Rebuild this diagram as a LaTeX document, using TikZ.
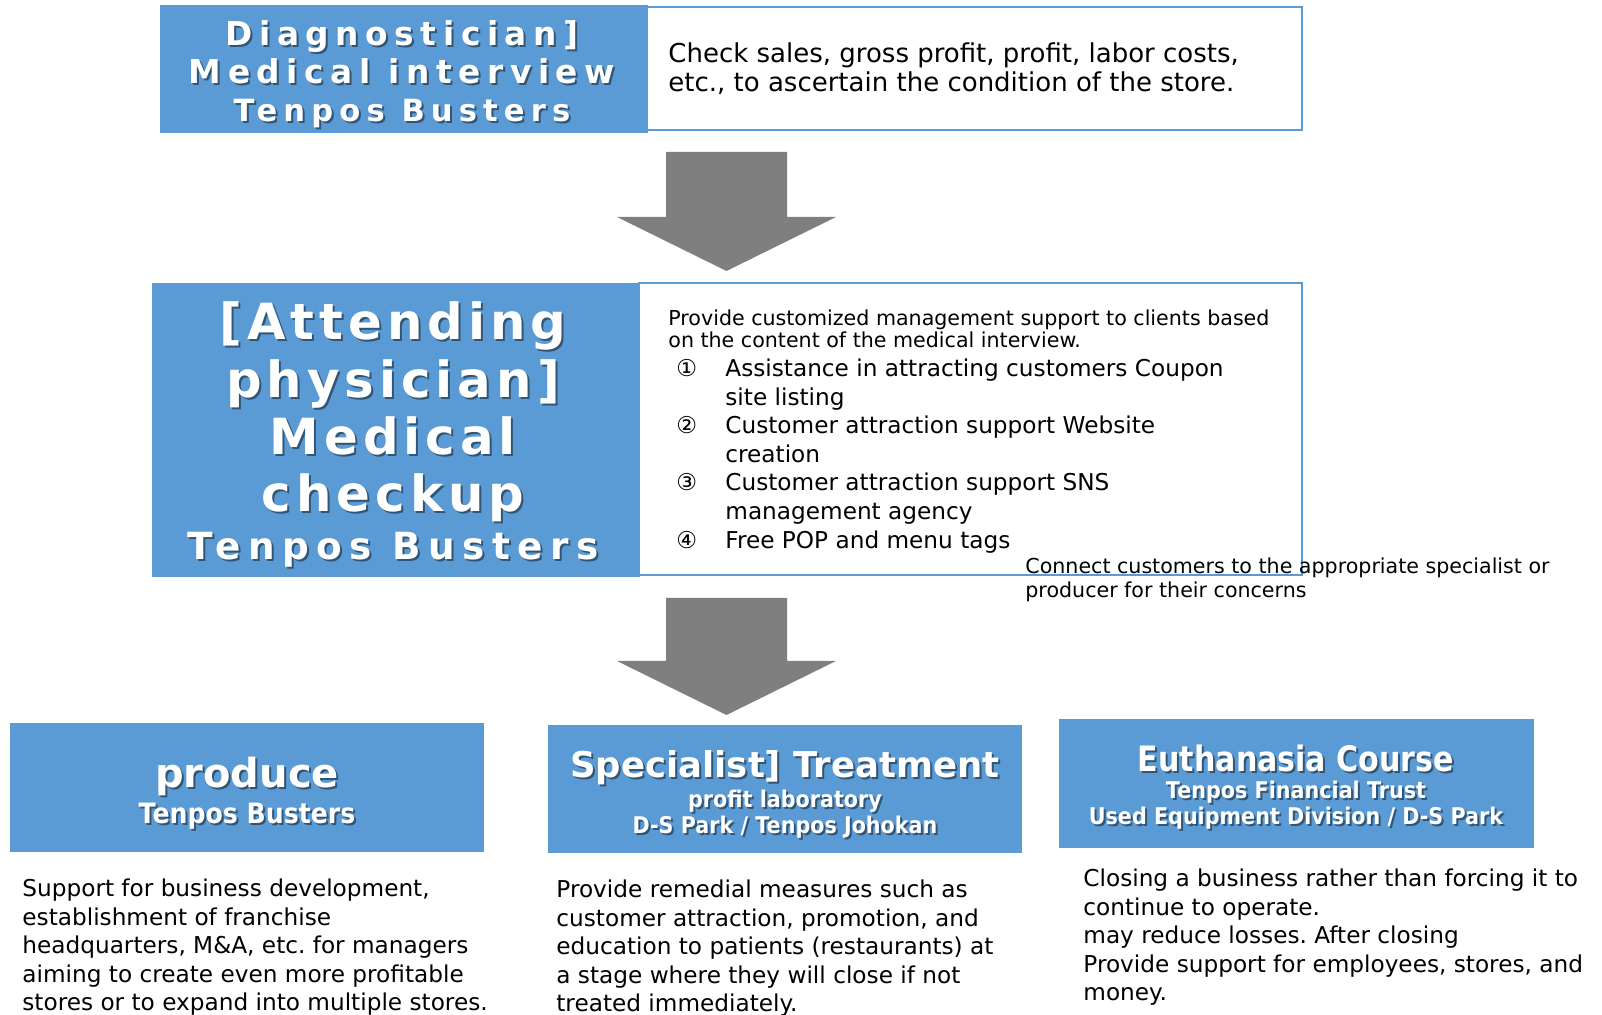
\documentclass[tikz,border=0pt]{standalone}
\usepackage{fontspec}
\setmainfont{DejaVu Sans}
\newfontfamily\spacedfont[LetterSpace=20]{DejaVu Sans}
\newfontfamily\bigspaced[LetterSpace=10]{DejaVu Sans}
\newfontfamily\narrowbold[FakeStretch=0.9]{DejaVu Sans Bold}
\newfontfamily\narrowerbold[FakeStretch=0.86]{DejaVu Sans Bold}
\usetikzlibrary{calc,positioning}

\definecolor{boxblue}{HTML}{5B9BD5}
\definecolor{arrowgray}{HTML}{7F7F7F}

\tikzset{
  bluebox/.style={fill=boxblue, draw=boxblue, inner sep=0pt},
  whitebox/.style={fill=white, draw=boxblue, line width=1pt, inner sep=0pt},
  title/.style={text=white, align=center, inner sep=0pt},
  shade/.style={text=black, text opacity=.45, align=center, inner sep=0pt},
  body/.style={anchor=north west, align=left, inner sep=0pt, font=\fontsize{11.6}{14.3}\selectfont},
  small body/.style={body, font=\fontsize{10.3}{11.2}\selectfont},
}

% white title text with a soft drop shadow
\newcommand{\shadowtitle}[4]{%
  \node[shade, font=#3] at ($(#2)+(2,2)$) {#4};
  \node[title, font=#3] (#1) at (#2) {#4};}

\begin{document}
\frenchspacing
\begin{tikzpicture}[x=0.5pt, y=-0.5pt]
  \useasboundingbox (0,0) rectangle (1602,1015);

  % --- interview ---
  \node[bluebox, minimum width=243.5pt, minimum height=63.5pt] (diagBox) at (403.5,68.5) {};
  \node[whitebox, minimum width=327.5pt, minimum height=61.5pt] (diagNote) at (974.5,68.5) {};
  \shadowtitle{diagTitle}{402,74}{\spacedfont\bfseries\fontsize{16.4}{18.9}\selectfont}%
    {Diagnostician]\\Medical interview\\{\fontsize{15.3}{18.9}\selectfont Tenpos Busters}}
  \node[body, font=\fontsize{13}{14.3}\selectfont] (diagText) at (668,42.5) {Check sales, gross profit, profit, labor costs,\\etc., to ascertain the condition of the store.};

  % --- big arrows ---
  \foreach \top/\neck/\tip in {152/217/271, 598/661/715}
    \fill[arrowgray] (666,\top) -- (787,\top) -- (787,\neck) -- (836,\neck)
      -- (726.5,\tip) -- (617,\neck) -- (666,\neck) -- cycle;

  % --- checkup ---
  \node[bluebox, minimum width=243.5pt, minimum height=146.5pt] (checkBox) at (395.5,429.5) {};
  \node[whitebox, minimum width=331.5pt, minimum height=146pt] (checkNote) at (970.5,429) {};
  \shadowtitle{checkTitle}{393,412}{\bigspaced\bfseries\fontsize{24.9}{28.7}\selectfont}%
    {[Attending\\physician]\\Medical\\checkup}
  \shadowtitle{checkSub}{393,550}{\spacedfont\bfseries\fontsize{18.7}{20}\selectfont}{Tenpos Busters}
  \node[small body] (checkIntro) at (668,309.5) {Provide customized management support to clients based\\on the content of the medical interview.};
  \node[body] (checkList) at (676,358.5) {%
    \makebox[24.5pt][l]{①}Assistance in attracting customers Coupon\\
    \hspace*{24.5pt}site listing\\
    \makebox[24.5pt][l]{②}Customer attraction support Website\\
    \hspace*{24.5pt}creation\\
    \makebox[24.5pt][l]{③}Customer attraction support SNS\\
    \hspace*{24.5pt}management agency\\
    \makebox[24.5pt][l]{④}Free POP and menu tags};
  \node[small body, font=\fontsize{10.3}{12}\selectfont] (connectText) at (1025,557.5) {Connect customers to the appropriate specialist or\\producer for their concerns};

  % --- three courses ---
  \node[bluebox, minimum width=236.5pt, minimum height=64pt] (produceBox) at (246.5,787) {};
  \node[bluebox, minimum width=236.5pt, minimum height=63.5pt] (treatBox) at (784.5,788.5) {};
  \node[bluebox, minimum width=237pt, minimum height=64pt] (euthBox) at (1296,783) {};

  \shadowtitle{produceTitle}{247,776}{\bfseries\fontsize{20}{22}\selectfont}{produce}
  \shadowtitle{produceSub}{247,816}{\narrowbold\fontsize{14}{15}\selectfont}{Tenpos Busters}
  \shadowtitle{treatTitle}{785,768}{\bfseries\fontsize{17.75}{20}\selectfont}{Specialist] Treatment}
  \shadowtitle{treatSub}{785,814}{\narrowbold\fontsize{11.5}{13}\selectfont}{profit laboratory\\D-S Park / Tenpos Johokan}
  \shadowtitle{euthTitle}{1296,758}{\narrowerbold\fontsize{17.5}{20}\selectfont}{Euthanasia Course}
  \shadowtitle{euthSub}{1296,805}{\narrowbold\fontsize{11.5}{13}\selectfont}{Tenpos Financial Trust\\Used Equipment Division / D-S Park}

  \node[body] (produceText) at (22,878.5) {Support for business development,\\establishment of franchise\\headquarters, M\&A, etc. for managers\\aiming to create even more profitable\\stores or to expand into multiple stores.};
  \node[body] (treatText) at (556,879.5) {Provide remedial measures such as\\customer attraction, promotion, and\\education to patients (restaurants) at\\a stage where they will close if not\\treated immediately.};
  \node[body] (euthText) at (1083,868.5) {Closing a business rather than forcing it to\\continue to operate.\\may reduce losses. After closing\\Provide support for employees, stores, and\\money.};
\end{tikzpicture}
\end{document}
